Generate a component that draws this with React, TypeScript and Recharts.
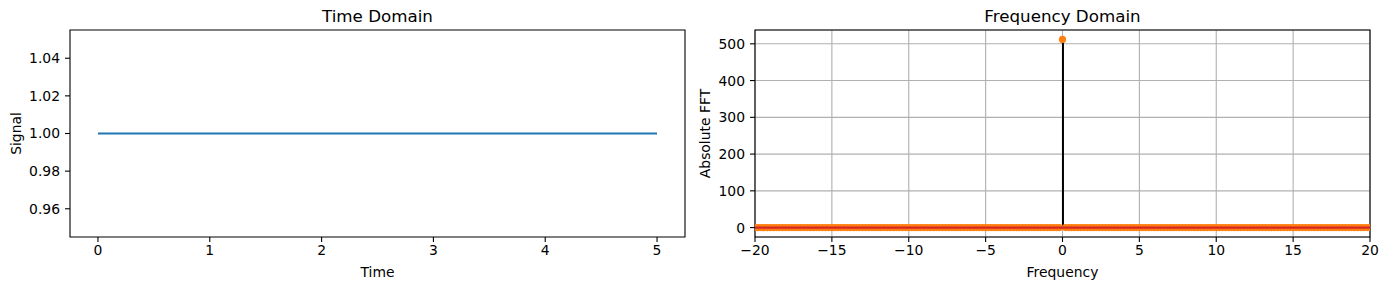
import React from 'react';
import {
  ComposedChart,
  Line,
  Bar,
  XAxis,
  YAxis,
  CartesianGrid,
  ReferenceArea,
} from 'recharts';

// time domain signal
const timeValues = [0, 1, 2, 3, 4, 5];
const signalValues = [1, 1, 1, 1, 1, 1];
const timeTicks = [0, 1, 2, 3, 4, 5];
const signalTicks = [0.96, 0.98, 1.0, 1.02, 1.04];

// fft bins shown between -20 and 20
const freqBins = [
  -20, -19.8, -19.6, -19.4, -19.2, -19, -18.8, -18.6, -18.4, -18.2,
  -18, -17.8, -17.6, -17.4, -17.2, -17, -16.8, -16.6, -16.4, -16.2,
  -16, -15.8, -15.6, -15.4, -15.2, -15, -14.8, -14.6, -14.4, -14.2,
  -14, -13.8, -13.6, -13.4, -13.2, -13, -12.8, -12.6, -12.4, -12.2,
  -12, -11.8, -11.6, -11.4, -11.2, -11, -10.8, -10.6, -10.4, -10.2,
  -10, -9.8, -9.6, -9.4, -9.2, -9, -8.8, -8.6, -8.4, -8.2,
  -8, -7.8, -7.6, -7.4, -7.2, -7, -6.8, -6.6, -6.4, -6.2,
  -6, -5.8, -5.6, -5.4, -5.2, -5, -4.8, -4.6, -4.4, -4.2,
  -4, -3.8, -3.6, -3.4, -3.2, -3, -2.8, -2.6, -2.4, -2.2,
  -2, -1.8, -1.6, -1.4, -1.2, -1, -0.8, -0.6, -0.4, -0.2,
  0, 0.2, 0.4, 0.6, 0.8, 1, 1.2, 1.4, 1.6, 1.8,
  2, 2.2, 2.4, 2.6, 2.8, 3, 3.2, 3.4, 3.6, 3.8,
  4, 4.2, 4.4, 4.6, 4.8, 5, 5.2, 5.4, 5.6, 5.8,
  6, 6.2, 6.4, 6.6, 6.8, 7, 7.2, 7.4, 7.6, 7.8,
  8, 8.2, 8.4, 8.6, 8.8, 9, 9.2, 9.4, 9.6, 9.8,
  10, 10.2, 10.4, 10.6, 10.8, 11, 11.2, 11.4, 11.6, 11.8,
  12, 12.2, 12.4, 12.6, 12.8, 13, 13.2, 13.4, 13.6, 13.8,
  14, 14.2, 14.4, 14.6, 14.8, 15, 15.2, 15.4, 15.6, 15.8,
  16, 16.2, 16.4, 16.6, 16.8, 17, 17.2, 17.4, 17.6, 17.8,
  18, 18.2, 18.4, 18.6, 18.8, 19, 19.2, 19.4, 19.6, 19.8,
  20,
];
// every other bin is ~0
const peakFreqs = [0];
const peakAmps = [512];
const stemBaseline = 0;
const freqTicks = [-20, -15, -10, -5, 0, 5, 10, 15, 20];
const fftTicks = [0, 100, 200, 300, 400, 500];

const timeData = timeValues.map((t, i) => ({ t, signal: signalValues[i] }));
const fftData = freqBins.map((f) => {
  const k = peakFreqs.indexOf(f);
  return { f, amp: k >= 0 ? peakAmps[k] : 0, base: stemBaseline };
});

const FONT = 'DejaVu Sans, sans-serif';
const tickStyle = { fontSize: 13.9, fill: '#000', fontFamily: FONT };
const fmtMinus = (v: number) => (v < 0 ? `\u2212${Math.abs(v)}` : `${v}`);

const FREQ_DOMAIN: [number, number] = [-20, 20];
const FFT_DOMAIN: [number, number] = [-25.6, 537.6];
const fftMargin = { top: 30, right: 19, bottom: 0, left: 0 };

const App = () => {
  return (
    <div
      style={{
        position: 'absolute',
        left: 0,
        top: 0,
        width: 1389,
        height: 290,
        background: '#fff',
        fontFamily: FONT,
      }}
    >
      {/* Time domain */}
      <div style={{ position: 'absolute', left: 0, top: 0 }}>
        <ComposedChart
          width={700}
          height={290}
          data={timeData}
          margin={{ top: 30, right: 15, bottom: 0, left: 0 }}
        >
          <XAxis
            dataKey="t"
            type="number"
            domain={[-0.25, 5.25]}
            ticks={timeTicks}
            allowDataOverflow
            height={53}
            axisLine={false}
            tickLine={{ stroke: '#000', strokeWidth: 1.1 }}
            tickSize={5}
            tickMargin={3}
            tick={tickStyle}
          />
          <YAxis
            type="number"
            domain={[0.945, 1.055]}
            ticks={signalTicks}
            allowDataOverflow
            width={70}
            axisLine={false}
            tickLine={{ stroke: '#000', strokeWidth: 1.1 }}
            tickSize={5}
            tickMargin={5}
            tick={tickStyle}
            tickFormatter={(v: number) => v.toFixed(2)}
          />
          <Line
            dataKey="signal"
            stroke="#1f77b4"
            strokeWidth={2.1}
            dot={false}
            activeDot={false}
            isAnimationActive={false}
          />
          <ReferenceArea
            x1={-0.25}
            x2={5.25}
            y1={0.945}
            y2={1.055}
            fill="none"
            fillOpacity={0}
            stroke="#000"
            strokeWidth={1.1}
          />
        </ComposedChart>
      </div>

      {/* Frequency domain */}
      <div style={{ position: 'absolute', left: 690, top: 0 }}>
        <ComposedChart width={699} height={290} data={fftData} margin={fftMargin}>
          <CartesianGrid stroke="#b0b0b0" strokeWidth={1.1} />
          <XAxis
            dataKey="f"
            type="number"
            domain={FREQ_DOMAIN}
            ticks={freqTicks}
            allowDataOverflow
            height={53}
            axisLine={false}
            tickLine={{ stroke: '#000', strokeWidth: 1.1 }}
            tickSize={5}
            tickMargin={3}
            tick={tickStyle}
            tickFormatter={fmtMinus}
          />
          <YAxis
            type="number"
            domain={FFT_DOMAIN}
            ticks={fftTicks}
            allowDataOverflow
            width={65}
            axisLine={false}
            tickLine={{ stroke: '#000', strokeWidth: 1.1 }}
            tickSize={5}
            tickMargin={5}
            tick={tickStyle}
          />
          <Bar dataKey="amp" fill="#000" barSize={2} isAnimationActive={false} />
          <Line
            dataKey="amp"
            stroke="none"
            strokeWidth={0}
            dot={{ r: 3.6, fill: '#ff7f0e', stroke: 'none' }}
            activeDot={false}
            isAnimationActive={false}
          />
          <ReferenceArea
            x1={-20}
            x2={20}
            y1={-25.6}
            y2={537.6}
            fill="none"
            fillOpacity={0}
            stroke="#000"
            strokeWidth={1.1}
          />
        </ComposedChart>
      </div>

      {/* stem baseline, same scales, layered over the markers */}
      <div style={{ position: 'absolute', left: 690, top: 0, pointerEvents: 'none' }}>
        <ComposedChart width={699} height={290} data={fftData} margin={fftMargin}>
          <XAxis
            dataKey="f"
            type="number"
            domain={FREQ_DOMAIN}
            allowDataOverflow
            height={53}
            axisLine={false}
            tickLine={false}
            tick={false}
          />
          <YAxis
            type="number"
            domain={FFT_DOMAIN}
            allowDataOverflow
            width={65}
            axisLine={false}
            tickLine={false}
            tick={false}
          />
          <Line
            dataKey="base"
            stroke="#d62728"
            strokeWidth={2.1}
            dot={false}
            activeDot={false}
            isAnimationActive={false}
          />
        </ComposedChart>
      </div>

      {/* titles and axis labels */}
      <svg
        width={1389}
        height={290}
        style={{ position: 'absolute', left: 0, top: 0, pointerEvents: 'none' }}
        fontFamily={FONT}
      >
        <text x={377.5} y={22} textAnchor="middle" fontSize={16.7}>
          Time Domain
        </text>
        <text x={1062.5} y={22} textAnchor="middle" fontSize={16.7}>
          Frequency Domain
        </text>
        <text x={377.5} y={277} textAnchor="middle" fontSize={13.9}>
          Time
        </text>
        <text x={1062.5} y={277} textAnchor="middle" fontSize={13.9}>
          Frequency
        </text>
        <text x={21} y={133.5} textAnchor="middle" fontSize={13.9} transform="rotate(-90 21 133.5)">
          Signal
        </text>
        <text x={710} y={133.5} textAnchor="middle" fontSize={13.9} transform="rotate(-90 710 133.5)">
          Absolute FFT
        </text>
      </svg>
    </div>
  );
};

export default App;
